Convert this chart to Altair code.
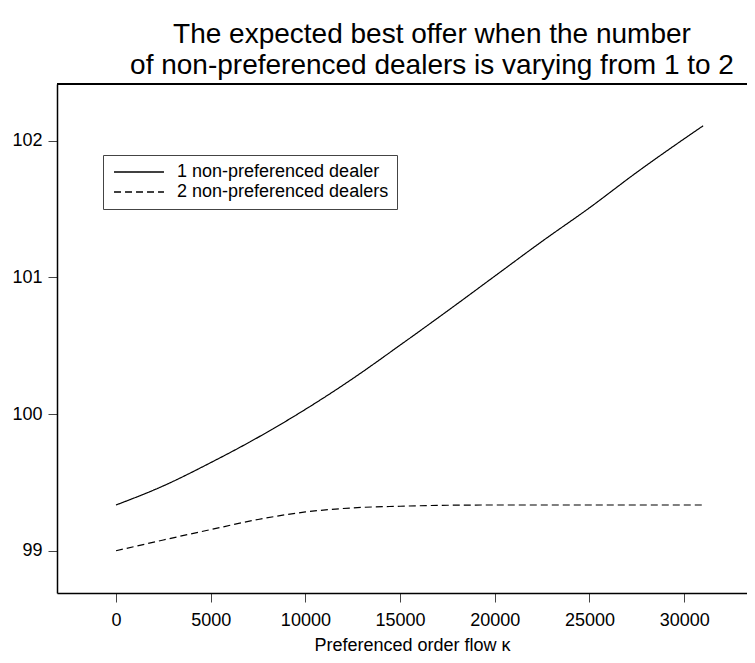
import altair as alt
import pandas as pd

# ---- data ----
kappa = [0, 2500, 5000, 7500, 10000, 12500, 15000, 17500, 20000, 22500, 25000, 27500, 30000, 31000]
one_dealer = [99.335, 99.475, 99.645, 99.83, 100.035, 100.26, 100.505, 100.755,
              101.01, 101.265, 101.51, 101.77, 102.015, 102.11]
two_dealers = [99.0, 99.079, 99.155, 99.229, 99.284, 99.314, 99.326, 99.333,
               99.335, 99.335, 99.335, 99.335, 99.335, 99.335]
series_names = ["1 non-preferenced dealer", "2 non-preferenced dealers"]
x_ticks = [0, 5000, 10000, 15000, 20000, 25000, 30000]
y_ticks = [99, 100, 101, 102]
title_lines = ["The expected best offer when the number",
               "of non-preferenced dealers is varying from 1 to 2"]
x_title = "Preferenced order flow \u03ba"

rows = []
for k, a, b in zip(kappa, one_dealer, two_dealers):
    rows.append({"kappa": k, "value": a, "series": series_names[0]})
    rows.append({"kappa": k, "value": b, "series": series_names[1]})
df = pd.DataFrame(rows)

FONT = "Liberation Sans, Arial, Helvetica, sans-serif"
W, H = 690, 509

lines = alt.Chart(df).mark_line(color="black", strokeWidth=1.2, interpolate="monotone").encode(
    x=alt.X("kappa:Q",
            scale=alt.Scale(domain=[-3115, 33316], nice=False, zero=False),
            axis=alt.Axis(values=x_ticks, format="d", title=x_title, titleX=355)),
    y=alt.Y("value:Q",
            scale=alt.Scale(domain=[98.691, 102.416], nice=False, zero=False),
            axis=alt.Axis(values=y_ticks, format="d", title=None)),
    strokeDash=alt.StrokeDash(
        "series:N", title=None,
        scale=alt.Scale(domain=series_names, range=[[1, 0], [7, 4]]),
        legend=alt.Legend(orient="none", legendX=46, legendY=71,
                          strokeColor="#444", fillColor="white", padding=8,
                          labelFontSize=18, labelFont=FONT, labelColor="black",
                          labelLimit=500,
                          symbolType="M-4,0H4", symbolSize=156,
                          symbolStrokeWidth=1.5, symbolStrokeColor="black",
                          symbolOffset=19, labelOffset=29, rowPadding=2)),
)

top_border = alt.Chart(df).mark_rule(color="black", strokeWidth=1.5).encode(
    x=alt.value(0), x2=alt.value(W), y=alt.value(0))

chart = alt.layer(lines, top_border).properties(
    width=W, height=H,
    autosize=alt.AutoSizeParams(type="none"),
    padding={"left": 49, "top": 76, "right": 0, "bottom": 60},
    title=alt.TitleParams(title_lines, fontSize=28, fontWeight="normal", font=FONT,
                          lineHeight=31, offset=3, dx=30, anchor="middle", color="black"),
).configure_view(stroke="transparent").configure_axis(
    grid=False, domainColor="black", domainWidth=1.5,
    tickColor="#444", tickSize=9, tickWidth=1,
    labelFont=FONT, labelFontSize=18, labelColor="black",
    titleFont=FONT, titleFontSize=18, titleFontWeight="normal", titleColor="black",
).configure_axisX(labelPadding=9, titlePadding=7).configure_axisY(labelPadding=6)

chart.save("out.html", embed_options={"renderer": "svg", "actions": False})
